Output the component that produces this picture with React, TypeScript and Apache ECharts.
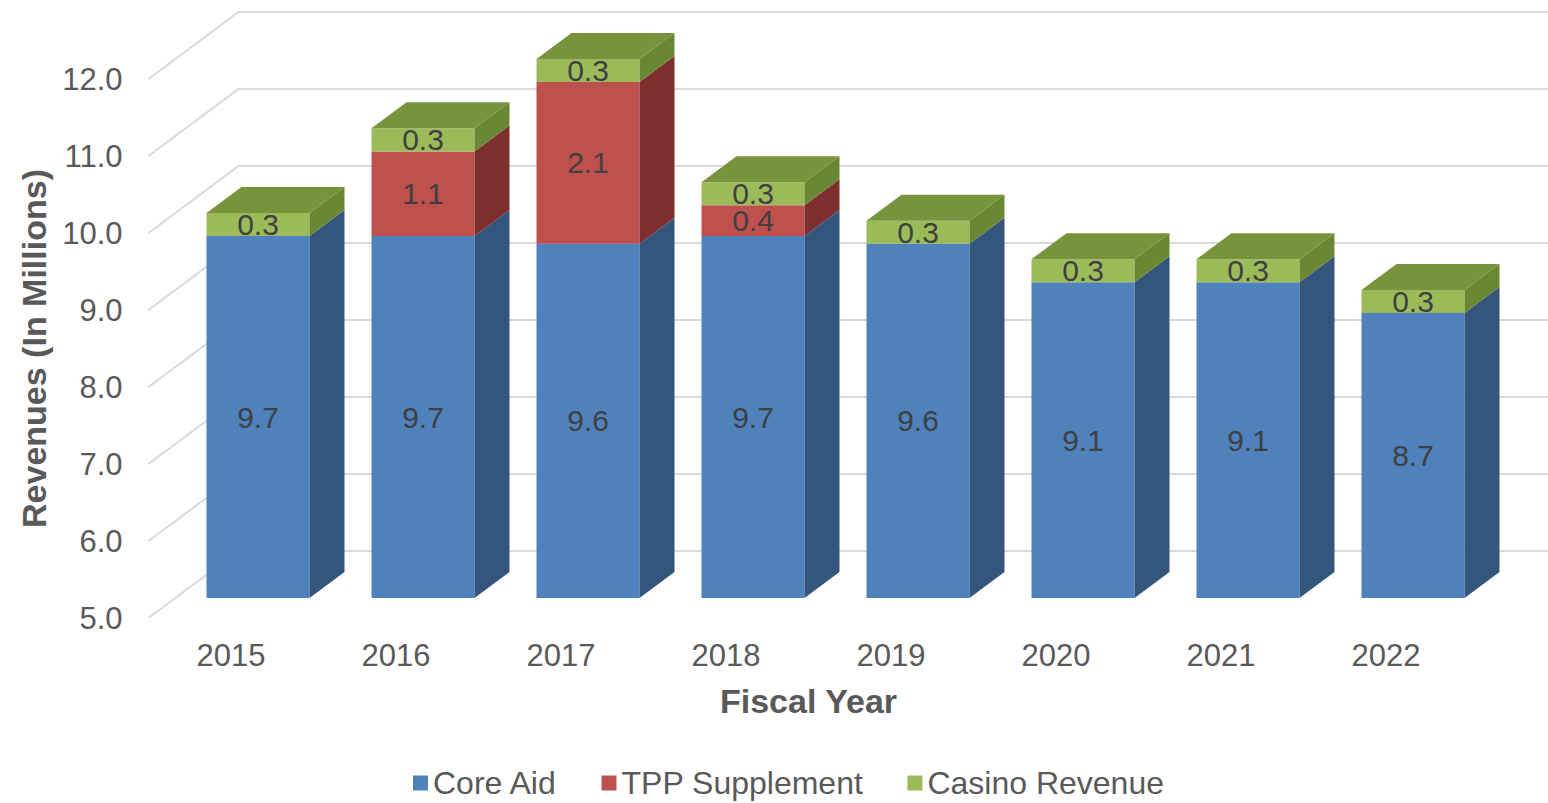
import React, { useEffect, useRef } from "react";
import * as echarts from "echarts";

const YEARS = ["2015", "2016", "2017", "2018", "2019", "2020", "2021", "2022"];
const CORE_AID = [9.7, 9.7, 9.6, 9.7, 9.6, 9.1, 9.1, 8.7];
const TPP_SUPPLEMENT = [0, 1.1, 2.1, 0.4, 0, 0, 0, 0];
const CASINO_REVENUE = [0.3, 0.3, 0.3, 0.3, 0.3, 0.3, 0.3, 0.3];
const Y_TICKS = [5, 6, 7, 8, 9, 10, 11, 12];
const Y_MIN = 5;
const Y_MAX = 12;
const Y_STEP = 1;

const SERIES_NAMES = ["Core Aid", "TPP Supplement", "Casino Revenue"];
const SERIES_VALUES = [CORE_AID, TPP_SUPPLEMENT, CASINO_REVENUE];
const FRONT = ["#4F81BD", "#C0504D", "#9BBB59"];
const SIDE = ["#34567D", "#7E2F2D", "#6A8733"];
const TOP = ["#3F6797", "#9A3E3C", "#77933C"];

const FONT = "'Liberation Sans', Arial, sans-serif";
const BAR_FRAC = 103 / 165;
const FRONT_SHIFT = [27, -20];
const BAR_DEPTH = [35, -26];
const WALL_DEPTH = [90, -67];

function buildSeriesData(s: number) {
  const out: number[][] = [];
  for (let i = 0; i < YEARS.length; i++) {
    let base = 0;
    for (let k = 0; k < s; k++) base += SERIES_VALUES[k][i];
    const v = SERIES_VALUES[s][i];
    if (v <= 0) continue;
    let lastNonZero = 0;
    for (let k = 0; k < SERIES_VALUES.length; k++) if (SERIES_VALUES[k][i] > 0) lastNonZero = k;
    out.push([i, base, base + v, v, lastNonZero === s ? 1 : 0]);
  }
  return out;
}

export default function App() {
  const ref = useRef<HTMLDivElement>(null);
  useEffect(() => {
    document.body.style.margin = "0";
    if (!ref.current) return;
    const chart = echarts.init(ref.current, undefined, { renderer: "svg" });

    const barSeries = SERIES_NAMES.map((name, s) => ({
      name,
      type: "custom",
      coordinateSystem: "cartesian2d",
      itemStyle: { color: FRONT[s] },
      data: buildSeriesData(s),
      renderItem: (params: any, api: any) => {
        const ci = api.value(0);
        const b = Math.max(api.value(1), Y_MIN);
        const t = api.value(2);
        const val = api.value(3);
        const isTop = api.value(4) === 1;
        const band = api.size([1, 0])[0];
        const w = band * BAR_FRAC;
        const pb = api.coord([ci, b]);
        const pt = api.coord([ci, t]);
        const L = pb[0] - w / 2 + FRONT_SHIFT[0];
        const R = L + w;
        const yb = pb[1] + FRONT_SHIFT[1];
        const yt = pt[1] + FRONT_SHIFT[1];
        const dx = BAR_DEPTH[0];
        const dy = BAR_DEPTH[1];
        const children: any[] = [
          {
            type: "rect",
            shape: { x: L, y: yt, width: w, height: yb - yt },
            style: { fill: FRONT[s] },
          },
          {
            type: "polygon",
            shape: { points: [[R, yt], [R + dx, yt + dy], [R + dx, yb + dy], [R, yb]] },
            style: { fill: SIDE[s] },
          },
        ];
        if (isTop) {
          children.push({
            type: "polygon",
            shape: { points: [[L, yt], [L + dx, yt + dy], [R + dx, yt + dy], [R, yt]] },
            style: { fill: TOP[s] },
          });
        }
        children.push({
          type: "text",
          x: (L + R) / 2,
          y: (yt + yb) / 2,
          style: {
            text: val.toFixed(1),
            fill: "#404040",
            fontSize: 30,
            fontFamily: FONT,
            align: "center",
            verticalAlign: "middle",
          },
        });
        return { type: "group", children };
      },
      z: 3,
    }));

    const option: any = {
      animation: false,
      color: FRONT,
      textStyle: { fontFamily: FONT },
      grid: { left: 148.5, top: 79, width: 1320, height: 539 },
      legend: {
        data: SERIES_NAMES,
        left: 408,
        top: 762,
        icon: "rect",
        itemWidth: 15,
        itemHeight: 15,
        itemGap: 44,
        textStyle: { fontSize: 32, color: "#595959", fontFamily: FONT },
      },
      xAxis: {
        type: "category",
        data: YEARS,
        boundaryGap: true,
        axisLine: { show: false },
        axisTick: { show: false },
        axisLabel: { fontSize: 31, color: "#595959", margin: 22, fontFamily: FONT },
        name: "Fiscal Year",
        nameLocation: "middle",
        nameGap: 66,
        nameTextStyle: { fontSize: 34, fontWeight: "bold", color: "#595959", fontFamily: FONT },
      },
      yAxis: {
        type: "value",
        min: Y_MIN,
        max: Y_MAX,
        interval: Y_STEP,
        axisLine: { show: false },
        axisTick: { show: false },
        splitLine: { show: false },
        axisLabel: {
          fontSize: 31,
          color: "#595959",
          margin: 26,
          fontFamily: FONT,
          formatter: (v: number) => v.toFixed(1),
        },
        name: "Revenues (In Millions)",
        nameLocation: "middle",
        nameGap: 96,
        nameTextStyle: { fontSize: 34, fontWeight: "bold", color: "#595959", fontFamily: FONT },
      },
      series: [
        {
          name: "grid",
          type: "custom",
          coordinateSystem: "cartesian2d",
          silent: true,
          data: Y_TICKS.map((v) => [0, v]),
          renderItem: (params: any, api: any) => {
            const v = api.value(1);
            const band = api.size([1, 0])[0];
            const p = api.coord([0, v]);
            const xl = p[0] - band / 2;
            const xr = xl + band * YEARS.length;
            const y = p[1];
            return {
              type: "polyline",
              shape: {
                points: [
                  [xl, y],
                  [xl + WALL_DEPTH[0], y + WALL_DEPTH[1]],
                  [xr + WALL_DEPTH[0], y + WALL_DEPTH[1]],
                ],
              },
              style: { stroke: "#D9D9D9", lineWidth: 2, fill: "none" },
            };
          },
          z: 1,
        },
        ...barSeries,
      ],
    };
    chart.setOption(option);
    return () => chart.dispose();
  }, []);
  return <div ref={ref} style={{ width: 1548, height: 803 }} />;
}
